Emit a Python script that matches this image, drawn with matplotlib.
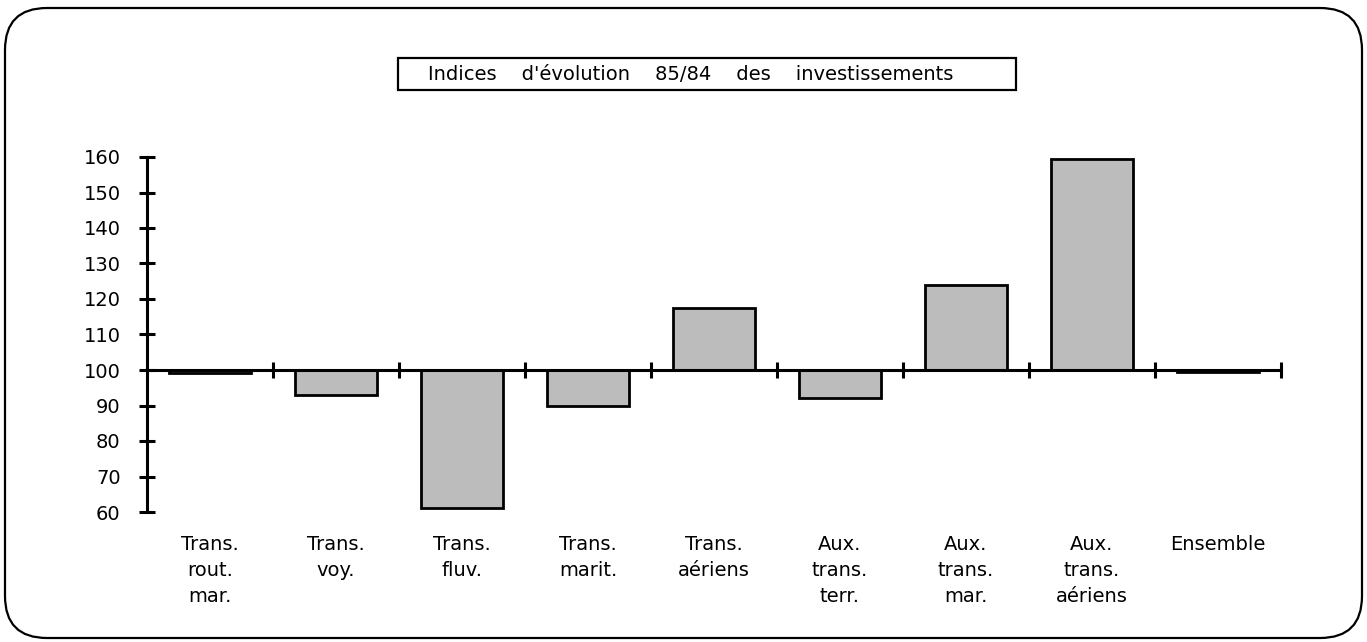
import matplotlib.pyplot as plt
from matplotlib.patches import FancyBboxPatch, Rectangle
from matplotlib.transforms import blended_transform_factory
import numpy as np

plt.rcParams['font.family'] = ['DejaVu Sans']

categories = ["Trans.\nrout.\nmar.", "Trans.\nvoy.", "Trans.\nfluv.", "Trans.\nmarit.",
              "Trans.\naériens", "Aux.\ntrans.\nterr.", "Aux.\ntrans.\nmar.",
              "Aux.\ntrans.\naériens", "Ensemble"]
values = [99.2, 93, 61, 90, 117.5, 92, 124, 159.5, 99.3]
yticks = [60, 70, 80, 90, 100, 110, 120, 130, 140, 150, 160]
title_words = ["Indices", "d'évolution", "85/84", "des", "investissements"]

W, H = 1367, 642
fig = plt.figure(figsize=(W / 100, H / 100), dpi=100)

# cadre arrondi autour de tout
fig.patches.append(FancyBboxPatch((5, 4), 1357, 630, boxstyle="round,pad=0,rounding_size=42",
                                  transform=None, fill=False, lw=1.6, ec='black'))

# titre encadré (mots très espacés dans l'original)
fig.patches.append(Rectangle((398 / W, 1 - 90 / H), 618 / W, 32 / H,
                             transform=fig.transFigure, fill=False, lw=1.6, ec='black'))
fig.text(428 / W, 1 - 74 / H, "    ".join(title_words), ha='left', va='center', fontsize=14)

ax = fig.add_axes([147 / W, 1 - 512 / H, (1281 - 147) / W, (512 - 157) / H])
x = np.arange(len(values)) + 0.5
base = 100
ax.bar(x, np.array(values) - base, bottom=base, width=0.65,
       color='#bcbcbc', edgecolor='black', linewidth=2)

ax.set_xlim(0, len(values))
ax.set_ylim(60, 160)
for s in ['top', 'right']:
    ax.spines[s].set_visible(False)
ax.spines['left'].set_linewidth(2.2)
ax.spines['bottom'].set_position(('data', base))
ax.spines['bottom'].set_linewidth(2.2)
ax.set_xticks(np.arange(1, len(values) + 1))
ax.set_xticklabels([])
ax.set_yticks(yticks)
ax.tick_params(axis='y', direction='inout', length=12, width=2.2, labelsize=14, pad=13)
ax.tick_params(axis='x', direction='inout', length=12, width=2.2)

tr = blended_transform_factory(ax.transData, ax.transAxes)
for xi, lab in zip(x, categories):
    ax.text(xi, -0.065, lab, transform=tr, ha='center', va='top', fontsize=14, linespacing=1.45)

fig.savefig('out.png', dpi=100)
